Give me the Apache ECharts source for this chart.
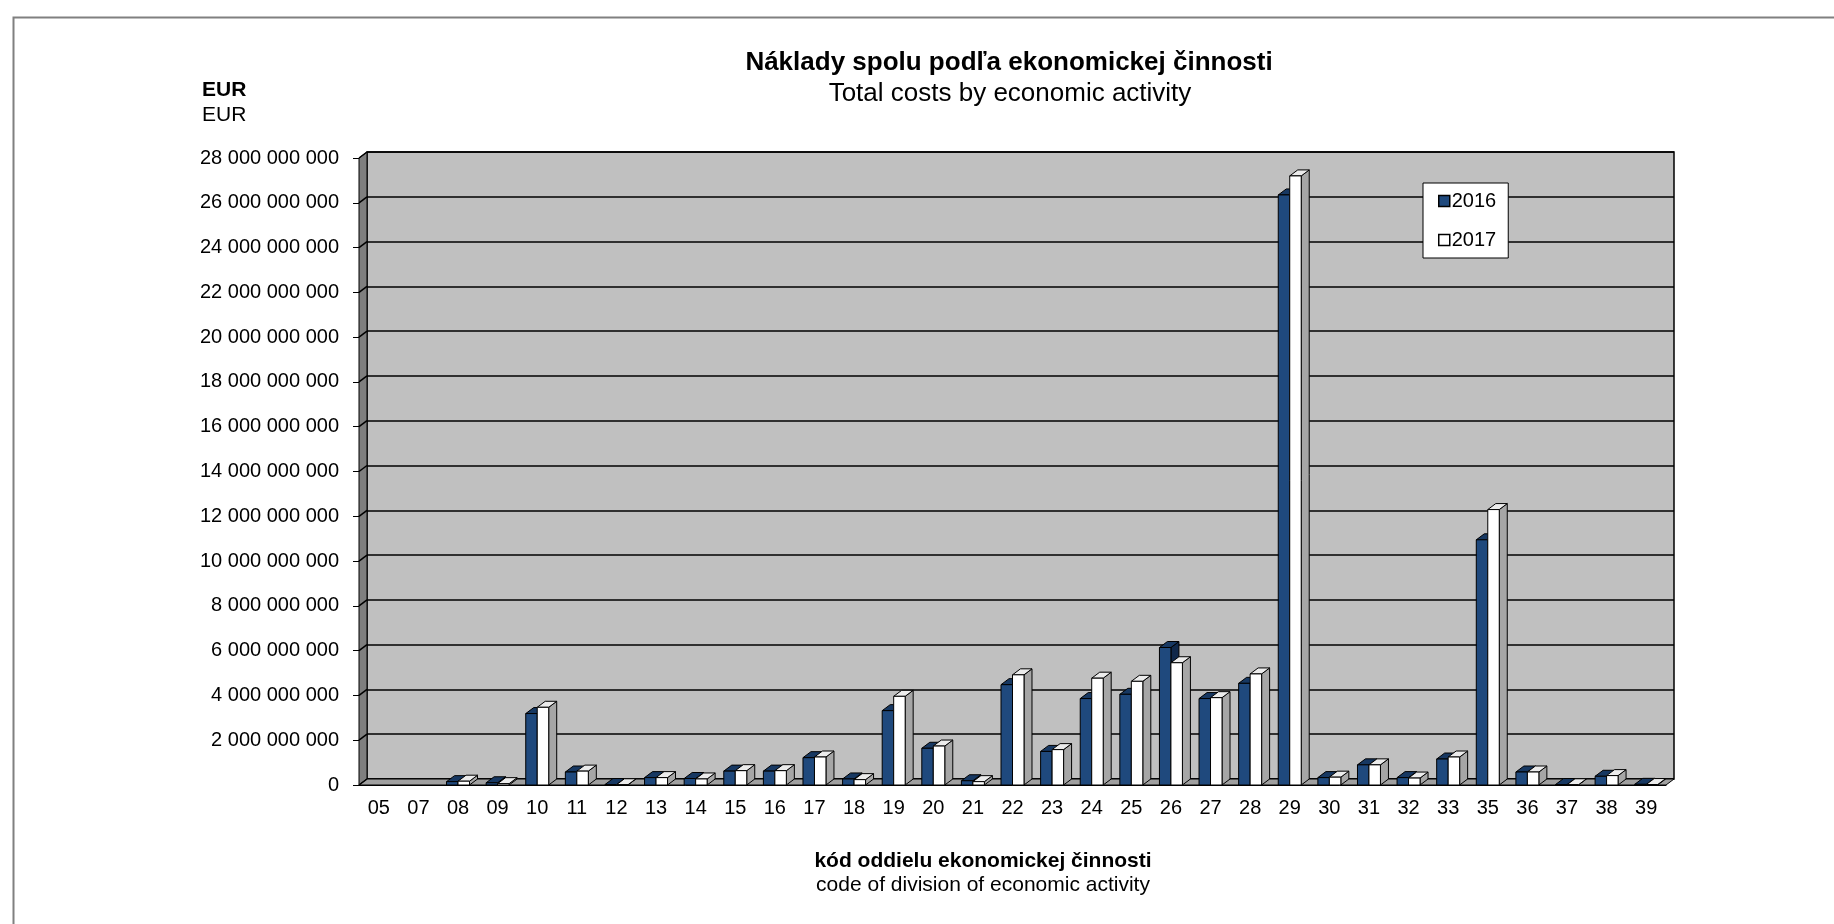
<!DOCTYPE html>
<html>
<head>
    <meta charset="utf-8">
    <title>Náklady spolu podľa ekonomickej činnosti</title>
    <script src="https://cdn.jsdelivr.net/npm/echarts@6.0.0/dist/echarts.min.js"></script>
    <style>
        html, body { margin: 0; padding: 0; background: #fff; }
        #main { width: 1834px; height: 924px; }
    </style>
</head>
<body>
<div id="main"></div>

<script type="text/javascript">
    // kód oddielu ekonomickej činnosti
    var categories = ['05', '07', '08', '09', '10', '11', '12', '13', '14', '15', '16', '17', '18', '19', '20', '21',
        '22', '23', '24', '25', '26', '27', '28', '29', '30', '31', '32', '33', '35', '36', '37', '38', '39'];
    // náklady spolu v EUR
    var costs2016 = [null, null, 0.15e9, 0.10e9, 3.19e9, 0.58e9, 0.02e9, 0.33e9, 0.29e9, 0.62e9, 0.62e9, 1.22e9, 0.27e9,
        3.32e9, 1.64e9, 0.19e9, 4.48e9, 1.50e9, 3.86e9, 4.05e9, 6.14e9, 3.86e9, 4.54e9, 26.35e9, 0.33e9, 0.90e9,
        0.33e9, 1.16e9, 10.95e9, 0.58e9, 0.02e9, 0.39e9, 0.03e9];
    var costs2017 = [null, null, 0.17e9, 0.06e9, 3.47e9, 0.62e9, 0.01e9, 0.33e9, 0.27e9, 0.64e9, 0.64e9, 1.25e9, 0.24e9,
        3.96e9, 1.74e9, 0.15e9, 4.92e9, 1.58e9, 4.77e9, 4.63e9, 5.46e9, 3.90e9, 4.96e9, 27.20e9, 0.35e9, 0.90e9,
        0.31e9, 1.25e9, 12.30e9, 0.58e9, 0.01e9, 0.42e9, 0.02e9];
    var seriesNames = ['2016', '2017'];
    // os y
    var yMin = 0, yMax = 28e9, yStep = 2e9;

    var FONT = '"Liberation Sans", Arial, sans-serif';
    var DX = 8, DY = 6; // hĺbka 3D stĺpcov
    var gridFront = {left: 359, top: 158, width: 1307, height: 627};
    var gridBack = {left: gridFront.left + DX, top: gridFront.top - DY, width: gridFront.width, height: gridFront.height};

    var palette = [
        {front: '#1f497d', top: '#173862', side: '#10284a'},
        {front: '#ffffff', top: '#ececec', side: '#a6a6a6'}
    ];

    var chart = echarts.init(document.getElementById('main'));

    function fmt(v) {
        return String(v).replace(/\B(?=(\d{3})+(?!\d))/g, ' ');
    }

    //3D stĺpec: predná stena, vrch a bok
    function barRenderer(k) {
        var c = palette[k];
        return function (params, api) {
            var v = api.value(1);
            if (v == null || isNaN(v)) return;
            var top = api.coord([api.value(0), v]);
            var base = api.coord([api.value(0), 0]);
            var w = api.size([1, 0])[0] * 0.29;
            var x = top[0] - w + k * w;
            var yt = top[1], yb = base[1];
            return {
                type: 'group',
                children: [
                    {type: 'polygon', shape: {points: [[x + w, yt], [x + w + DX, yt - DY], [x + w + DX, yb - DY], [x + w, yb]]},
                        style: {fill: c.side, stroke: '#000', lineWidth: 1}},
                    {type: 'polygon', shape: {points: [[x, yt], [x + w, yt], [x + w + DX, yt - DY], [x + DX, yt - DY]]},
                        style: {fill: c.top, stroke: '#000', lineWidth: 1}},
                    {type: 'rect', shape: {x: x, y: yt, width: w, height: yb - yt},
                        style: {fill: c.front, stroke: '#000', lineWidth: 1}}
                ]
            };
        };
    }

    //bočná stena a podlaha
    function wallRenderer(params, api) {
        var cs = params.coordSys;
        var x0 = cs.x, y0 = cs.y, x1 = cs.x + cs.width, y1 = cs.y + cs.height;
        var children = [
            {type: 'polygon', shape: {points: [[x0, y0], [x0 - DX, y0 + DY], [x0 - DX, y1 + DY], [x0, y1]]},
                style: {fill: '#7f7f7f', stroke: '#000', lineWidth: 1}},
            {type: 'polygon', shape: {points: [[x0, y1], [x1, y1], [x1 - DX, y1 + DY], [x0 - DX, y1 + DY]]},
                style: {fill: '#a0a0a0', stroke: '#000', lineWidth: 1}}
        ];
        for (var t = yMin; t <= yMax; t += yStep) {
            var y = api.coord([0, t])[1];
            children.push({type: 'line', shape: {x1: x0, y1: y, x2: x0 - DX, y2: y + DY},
                style: {stroke: '#000', lineWidth: 1.5}});
        }
        return {type: 'group', children: children};
    }

    function toData(arr) {
        return arr.map(function (v, i) { return [i, v]; });
    }

    var option = {
        backgroundColor: '#fff',
        animation: false,
        textStyle: {fontFamily: FONT},
        grid: [
            Object.assign({show: true, backgroundColor: '#c0c0c0', borderColor: '#000', borderWidth: 1.5}, gridBack),
            Object.assign({show: false}, gridFront)
        ],
        xAxis: [
            {type: 'category', gridIndex: 0, data: categories, show: false},
            {
                type: 'category', gridIndex: 1, data: categories,
                axisLine: {lineStyle: {color: '#000', width: 1}},
                axisTick: {length: 6, lineStyle: {color: '#000'}},
                axisLabel: {color: '#000', fontSize: 20, margin: 13, fontFamily: FONT, interval: 0}
            }
        ],
        yAxis: [
            {
                type: 'value', gridIndex: 0, min: yMin, max: yMax, interval: yStep,
                axisLine: {show: false}, axisTick: {show: false}, axisLabel: {show: false},
                splitLine: {lineStyle: {color: '#000', width: 1.5}}
            },
            {
                type: 'value', gridIndex: 1, min: yMin, max: yMax, interval: yStep,
                axisLine: {show: true, lineStyle: {color: '#000', width: 1}},
                axisTick: {show: true, length: 6, lineStyle: {color: '#000'}},
                axisLabel: {color: '#000', fontSize: 20, margin: 20, fontFamily: FONT, formatter: fmt},
                splitLine: {show: false}
            }
        ],
        legend: {
            orient: 'vertical',
            left: 1423, top: 183,
            backgroundColor: '#fff',
            borderColor: '#000', borderWidth: 1,
            borderRadius: 0,
            padding: [8, 12, 8, 15],
            itemGap: 19,
            itemWidth: 11, itemHeight: 11,
            icon: 'rect',
            textStyle: {color: '#000', fontSize: 20, fontFamily: FONT, padding: [0, 0, 0, -3]},
            data: seriesNames.map(function (n, k) {
                return {name: n, itemStyle: {color: palette[k].front, borderColor: '#000', borderWidth: 1.5}};
            })
        },
        series: [
            {
                type: 'custom', name: 'walls', xAxisIndex: 0, yAxisIndex: 0, silent: true, z: 1,
                renderItem: wallRenderer, data: [[0, 0]]
            },
            {
                type: 'custom', name: seriesNames[0], xAxisIndex: 1, yAxisIndex: 1, z: 3,
                itemStyle: {color: palette[0].front},
                renderItem: barRenderer(0), encode: {x: 0, y: 1}, data: toData(costs2016)
            },
            {
                type: 'custom', name: seriesNames[1], xAxisIndex: 1, yAxisIndex: 1, z: 4,
                itemStyle: {color: palette[1].front},
                renderItem: barRenderer(1), encode: {x: 0, y: 1}, data: toData(costs2017)
            }
        ],
        graphic: [
            {type: 'rect', left: 11, top: 15, z: -10, silent: true,
                shape: {width: 1900, height: 1000}, style: {fill: null, stroke: '#808080', lineWidth: 2}},
            {type: 'text', x: 1009, y: 63, style: {text: 'Náklady spolu podľa ekonomickej činnosti', align: 'center', verticalAlign: 'middle',
                font: 'bold 26px ' + FONT, fill: '#000'}},
            {type: 'text', x: 1010, y: 94, style: {text: 'Total costs by economic activity', align: 'center', verticalAlign: 'middle',
                font: '26px ' + FONT, fill: '#000'}},
            {type: 'text', x: 202, y: 90, style: {text: 'EUR', align: 'left', verticalAlign: 'middle',
                font: 'bold 21px ' + FONT, fill: '#000'}},
            {type: 'text', x: 202, y: 115, style: {text: 'EUR', align: 'left', verticalAlign: 'middle',
                font: '21px ' + FONT, fill: '#000'}},
            {type: 'text', x: 983, y: 861, style: {text: 'kód oddielu ekonomickej činnosti', align: 'center', verticalAlign: 'middle',
                font: 'bold 21px ' + FONT, fill: '#000'}},
            {type: 'text', x: 983, y: 885, style: {text: 'code of division of economic activity', align: 'center', verticalAlign: 'middle',
                font: '21px ' + FONT, fill: '#000'}}
        ]
    };
    chart.setOption(option);
</script>
</body>
</html>
